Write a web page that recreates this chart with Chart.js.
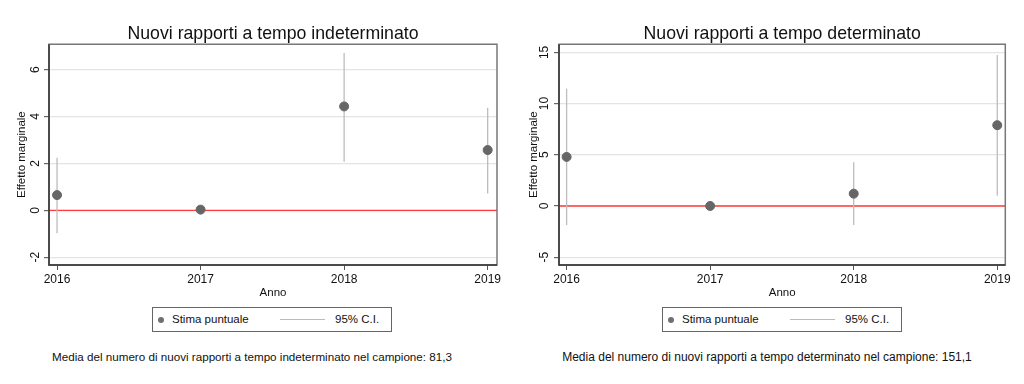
<!DOCTYPE html>
<html>
<head>
<meta charset="utf-8">
<script src="https://cdn.jsdelivr.net/npm/chart.js@4"></script>
<style>
body { margin: 0; background: #fff; font-family: "Liberation Sans", Arial, sans-serif; }
.pannello { position: absolute; top: 0; width: 512px; height: 384px; }
.pannello canvas { position: absolute; left: 0; top: 0; }
.legenda { position: absolute; top: 307px; width: 238px; height: 23px; border: 1px solid #666; font-size: 11.5px; color: #111; }
.legenda .punto { position: absolute; left: 5px; top: 9px; width: 6px; height: 6px; border-radius: 50%; background: #707070; }
.legenda .t1 { position: absolute; left: 19px; top: 5px; }
.legenda .linea { position: absolute; left: 127px; top: 11px; width: 45px; border-top: 1px solid #bbb; }
.legenda .t2 { position: absolute; left: 182px; top: 5px; }
.nota { position: absolute; top: 350px; width: 512px; text-align: center; font-size: 11.65px; color: #111; }
</style>
</head>
<body>
<div class="pannello" style="left:0">
  <canvas id="graficoInd" width="512" height="300"></canvas>
  <div class="legenda" style="left:152px"><span class="punto"></span><span class="t1">Stima puntuale</span><span class="linea"></span><span class="t2">95% C.I.</span></div>
  <div class="nota" id="notaInd" style="left:-4px"></div>
</div>
<div class="pannello" style="left:512px">
  <canvas id="graficoDet" width="512" height="300"></canvas>
  <div class="legenda" style="left:150px"><span class="punto"></span><span class="t1">Stima puntuale</span><span class="linea"></span><span class="t2">95% C.I.</span></div>
  <div class="nota" id="notaDet" style="left:-1px; font-size:12px"></div>
</div>
<script>
/*globals Chart*/
const anni = [2016, 2017, 2018, 2019];

// Nuovi rapporti a tempo indeterminato
const stimaInd = [0.65, 0.03, 4.43, 2.57];
const ciBassoInd = [-0.98, null, 2.07, 0.72];
const ciAltoInd = [2.24, null, 6.71, 4.37];
const tickYInd = [-2, 0, 2, 4, 6];
const mediaInd = "81,3";

// Nuovi rapporti a tempo determinato
const stimaDet = [4.79, 0, 1.2, 7.89];
const ciBassoDet = [-1.86, null, -1.86, 1.0];
const ciAltoDet = [11.44, null, 4.27, 14.76];
const tickYDet = [-5, 0, 5, 10, 15];
const mediaDet = "151,1";

const lineaZero = 0;

function puntiStima(stime) {
	return anni.map((a, i) => ({ x: a, y: stime[i] }));
}
function segmentiCI(bassi, alti) {
	const punti = [];
	anni.forEach((a, i) => {
		if (bassi[i] === null) return;
		punti.push({ x: a, y: bassi[i] }, { x: a, y: alti[i] }, { x: a, y: null });
	});
	return punti;
}

// cornice del grafico e linea rossa a zero
const pluginCornice = {
	id: "cornice",
	beforeDatasetsDraw(chart) {
		const { ctx, chartArea, scales } = chart;
		const y0 = scales.y.getPixelForValue(lineaZero);
		ctx.save();
		ctx.strokeStyle = "#ff3b3b";
		ctx.lineWidth = 1.4;
		ctx.beginPath();
		ctx.moveTo(chartArea.left, y0);
		ctx.lineTo(chartArea.right, y0);
		ctx.stroke();
		ctx.restore();
	},
	afterDraw(chart) {
		const { ctx, chartArea } = chart;
		ctx.save();
		ctx.strokeStyle = "#777";
		ctx.lineWidth = 1.5;
		ctx.strokeRect(chartArea.left, chartArea.top, chartArea.right - chartArea.left, chartArea.bottom - chartArea.top);
		ctx.strokeStyle = "#333";
		ctx.beginPath();
		ctx.moveTo(chartArea.left, chartArea.top);
		ctx.lineTo(chartArea.left, chartArea.bottom);
		ctx.lineTo(chartArea.right, chartArea.bottom);
		ctx.stroke();
		ctx.restore();
	},
};

function generaGrafico(id, titolo, stime, bassi, alti, tickY, yMin, yMax, xMin, xMax, larghezzaY, destra) {
	const ctx = document.getElementById(id).getContext("2d");
	new Chart(ctx, {
		type: "scatter",
		data: {
			datasets: [
				{
					label: "95% C.I.",
					data: segmentiCI(bassi, alti),
					showLine: true,
					spanGaps: false,
					borderColor: "#bdbdbd",
					borderWidth: 1.3,
					pointRadius: 0,
					order: 2,
				},
				{
					label: "Stima puntuale",
					data: puntiStima(stime),
					backgroundColor: "#666",
					borderColor: "#666",
					pointRadius: 4.5,
					order: 1,
				},
			],
		},
		options: {
			responsive: false,
			animation: false,
			layout: { padding: { left: 0, right: destra, top: 0, bottom: 0 } },
			plugins: {
				legend: { display: false },
				tooltip: { enabled: false },
				title: {
					display: true,
					fullSize: false,
					text: titolo,
					color: "#111",
					font: { family: "Liberation Sans", size: 17.7, weight: "normal" },
					padding: { top: 23, bottom: 0 },
				},
			},
			scales: {
				x: {
					type: "linear",
					min: xMin,
					max: xMax,
					afterBuildTicks: (s) => { s.ticks = anni.map((v) => ({ value: v })); },
					afterFit: (s) => { s.height = 35; },
					ticks: {
						callback: (v) => String(v),
						color: "#111",
						font: { family: "Liberation Sans", size: 12 },
						padding: 2,
						maxRotation: 0,
					},
					grid: { drawOnChartArea: false, tickLength: 5, tickColor: "#555" },
					border: { display: false },
					title: {
						display: true,
						text: "Anno",
						color: "#111",
						font: { family: "Liberation Sans", size: 11.5 },
						padding: { top: 0, bottom: 0 },
					},
				},
				y: {
					min: yMin,
					max: yMax,
					afterBuildTicks: (s) => { s.ticks = tickY.map((v) => ({ value: v })); },
					afterFit: (s) => { s.width = larghezzaY; },
					ticks: {
						callback: (v) => String(v),
						color: "#111",
						font: { family: "Liberation Sans", size: 12 },
						minRotation: 90,
						maxRotation: 90,
						crossAlign: "center",
						padding: 3,
					},
					grid: { color: "#e4e4e4", lineWidth: 1.2, tickLength: 5, tickColor: "#666" },
					border: { display: false },
					title: {
						display: true,
						text: "Effetto marginale",
						color: "#111",
						font: { family: "Liberation Sans", size: 11.5 },
						padding: { top: 15, bottom: 0 },
					},
				},
			},
		},
		plugins: [pluginCornice],
	});
}

generaGrafico("graficoInd", "Nuovi rapporti a tempo indeterminato", stimaInd, ciBassoInd, ciAltoInd, tickYInd, -2.33, 7.08, 2015.944, 2019.065, 49, 15);
generaGrafico("graficoDet", "Nuovi rapporti a tempo determinato", stimaDet, ciBassoDet, ciAltoDet, tickYDet, -5.77, 15.8, 2015.947, 2019.056, 47, 18.7);

document.getElementById("notaInd").textContent = "Media del numero di nuovi rapporti a tempo indeterminato nel campione: " + mediaInd;
document.getElementById("notaDet").textContent = "Media del numero di nuovi rapporti a tempo determinato nel campione: " + mediaDet;
</script>
</body>
</html>
